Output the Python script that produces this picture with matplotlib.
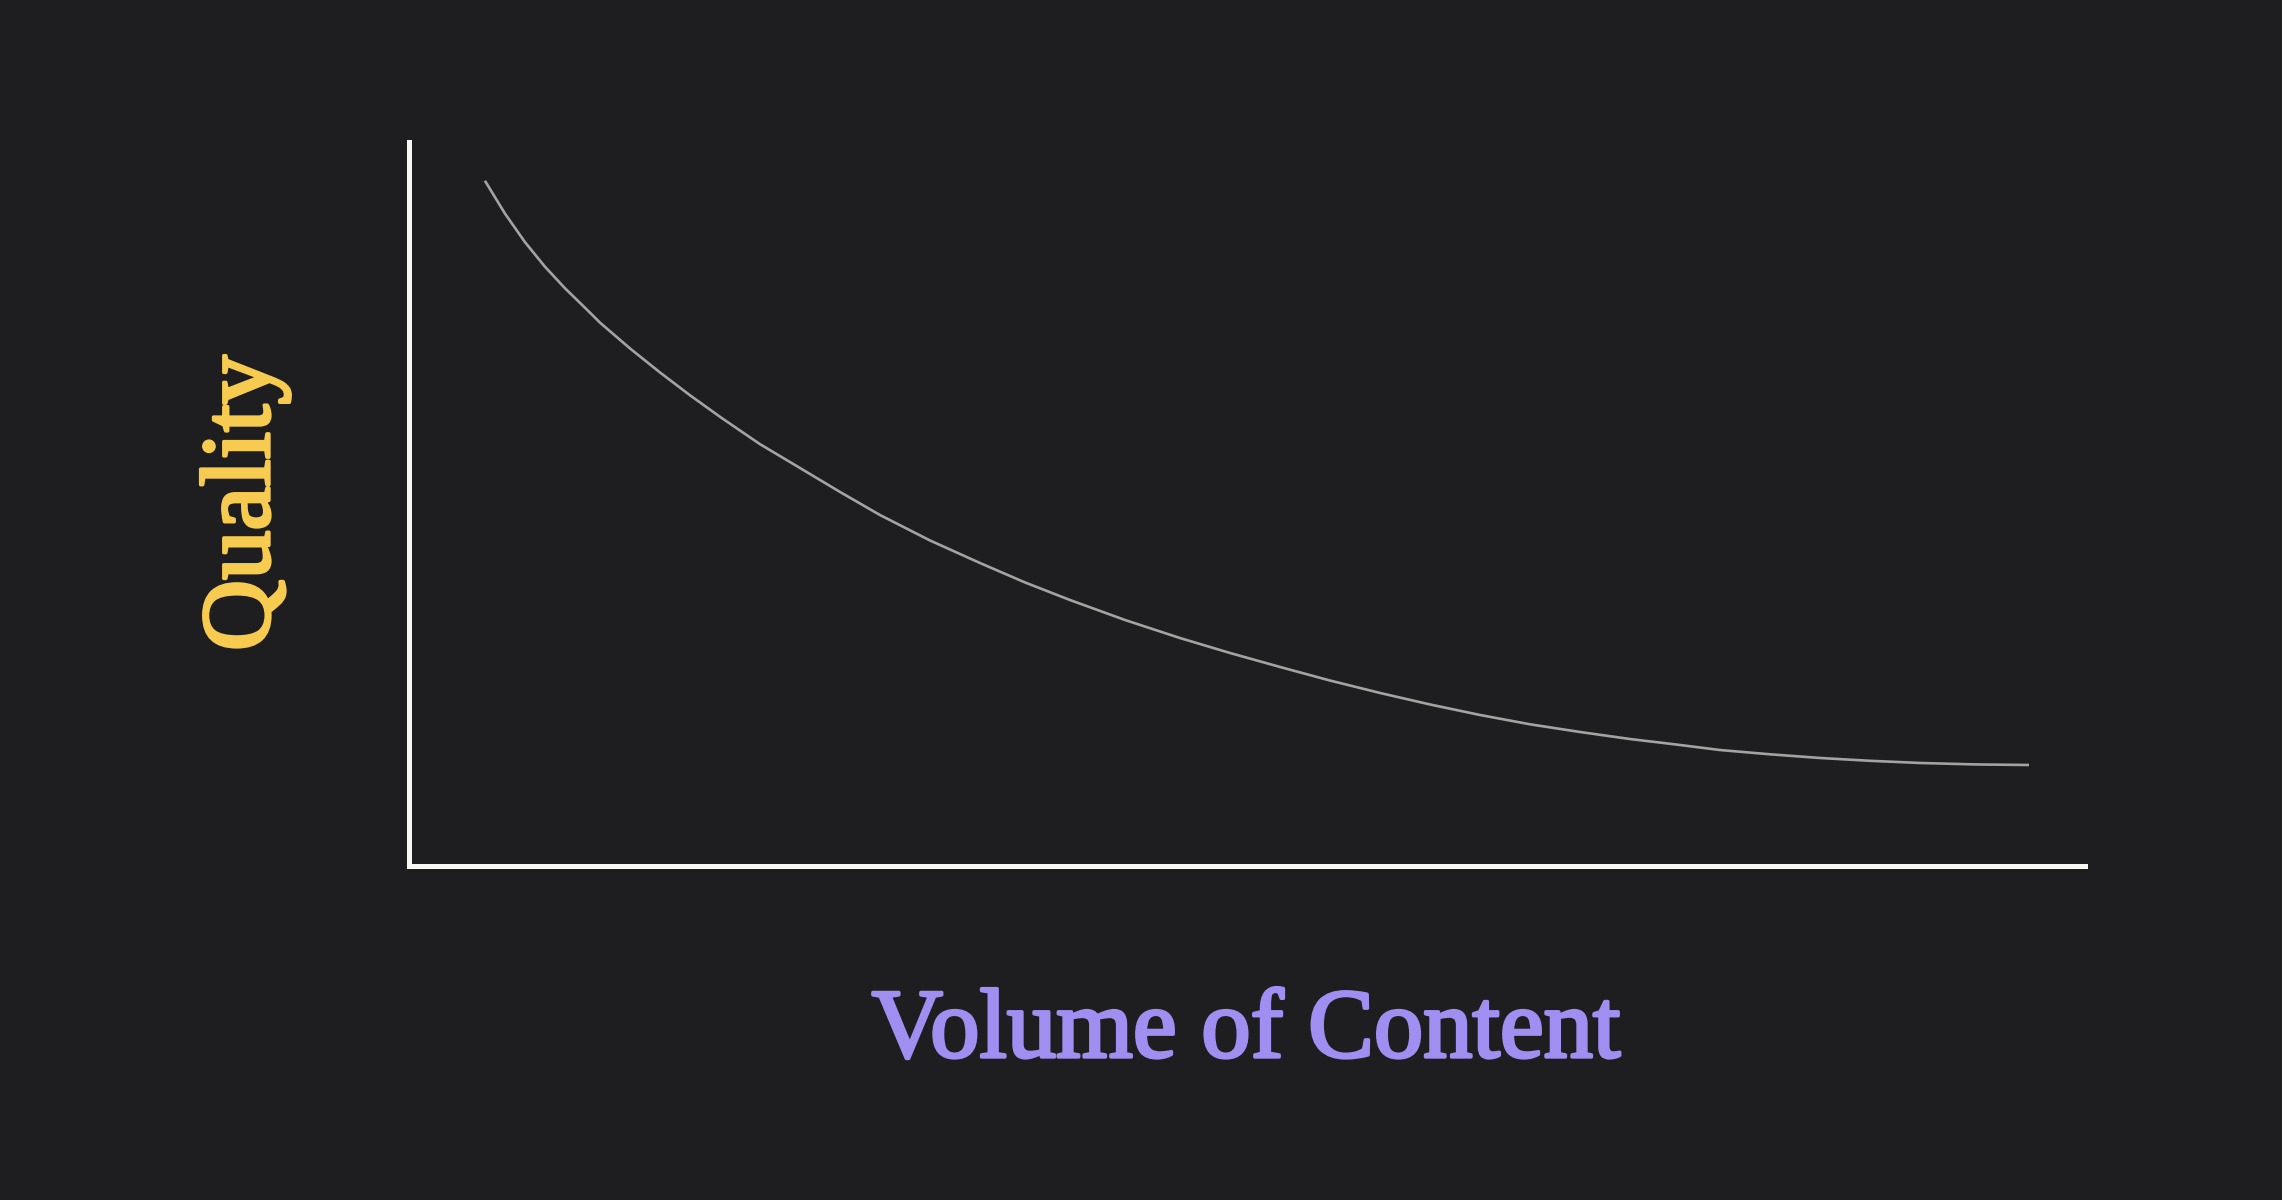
import matplotlib
matplotlib.use("Agg")
import matplotlib.pyplot as plt
import matplotlib.patheffects as pe

# Curve (axes units 0..100)
volume = [4.53, 5.73, 6.92, 8.11, 9.31, 10.50, 11.40, 13.19, 14.98, 16.77, 18.68,
          20.94, 23.33, 25.72, 28.10, 31.09, 34.07, 36.75, 39.44, 42.72, 46.00,
          48.99, 51.97, 54.95, 57.94, 60.92, 63.90, 66.89, 69.87, 72.85, 75.54,
          78.22, 81.20, 84.19, 87.17, 90.16, 93.44, 96.66]
quality = [94.65, 90.10, 86.17, 82.78, 79.79, 77.11, 75.04, 71.48, 68.16, 65.01, 61.84,
           58.27, 54.97, 51.66, 48.48, 44.96, 41.85, 39.17, 36.74, 33.98, 31.49,
           29.42, 27.49, 25.62, 23.90, 22.31, 20.86, 19.57, 18.51, 17.54, 16.80,
           16.02, 15.43, 14.92, 14.53, 14.23, 14.03, 13.95]
x_label = "Volume of Content"
y_label = "Quality"

BG = "#1e1e20"
fig = plt.figure(figsize=(22.82, 12), dpi=100, facecolor=BG)
ax = fig.add_axes([409 / 2282, 1 - 866 / 1200, 1676 / 2282, 724 / 1200])
ax.set_facecolor(BG)
ax.plot(volume, quality, color="#a3a3a3", linewidth=1.9, solid_capstyle="butt",
        solid_joinstyle="round", antialiased=True)
ax.set_xlim(0, 100)
ax.set_ylim(0, 100)
for s in ["top", "right"]:
    ax.spines[s].set_visible(False)
for s in ["left", "bottom"]:
    ax.spines[s].set_color("#f8f8f2")
    ax.spines[s].set_linewidth(3.6)
ax.set_xticks([])
ax.set_yticks([])

serif = ["Liberation Serif", "DejaVu Serif"]
xc, yc = "#a08ef0", "#f6cb50"
fig.text(1246 / 2282, 1 - 1057 / 1200, x_label, ha="center", va="baseline",
         fontsize=71, color=xc, family=serif,
         path_effects=[pe.withStroke(linewidth=2.4, foreground=xc)])
fig.text(245 / 2282, 1 - 503 / 1200, y_label, ha="center", va="center",
         rotation=90, fontsize=71, color=yc, family=serif,
         path_effects=[pe.withStroke(linewidth=2.4, foreground=yc)])

fig.savefig("out.png", dpi=100, facecolor=BG)
